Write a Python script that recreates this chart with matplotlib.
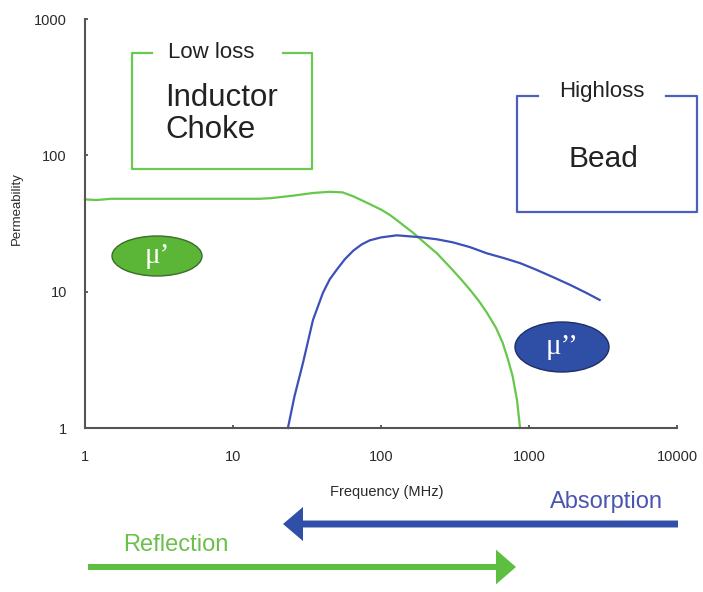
import matplotlib
matplotlib.use("Agg")
import matplotlib.pyplot as plt
from matplotlib.patches import Ellipse, FancyArrowPatch
from matplotlib.lines import Line2D

plt.rcParams['font.family'] = ['Liberation Sans', 'DejaVu Sans']

# Real part of permeability (mu')
freq_real = [1, 1.2, 1.5, 2, 3, 5, 10, 15, 18, 25, 35, 45, 55, 65, 80, 100,
             115, 130, 165, 200, 240, 305, 350, 400, 460, 520, 600, 665, 720, 775, 830, 870]
mu_real = [47.5, 47, 48, 48, 48, 48, 48, 48, 48.5, 50.5, 53, 54, 53.5, 50, 45, 40,
           36.5, 33, 27, 22.5, 19, 14.4, 12.2, 10.3, 8.5, 7.0, 5.4, 4.2, 3.2, 2.4, 1.6, 1.0]

# Imaginary part of permeability (mu'')
freq_imag = [23.5, 26, 29.7, 34.7, 40.5, 45, 50, 57, 65, 74, 84, 100, 128, 183,
             240, 306, 400, 520, 680, 870, 1100, 1450, 1900, 2460, 3000]
mu_imag = [1.0, 1.7, 3.0, 6.2, 9.8, 12.3, 14.4, 17.3, 20, 22.2, 23.8, 25.0, 25.9, 25.1,
           24.2, 23, 21.2, 19.1, 17.6, 16.2, 14.6, 12.8, 11.2, 9.75, 8.7]

x_ticks = [1, 10, 100, 1000, 10000]
x_tick_labels = ["1", "10", "100", "1000", "10000"]
y_ticks = [1, 10, 100, 1000]
y_tick_labels = ["1", "10", "100", "1000"]

W, H = 703, 592
fig = plt.figure(figsize=(W / 100, H / 100), dpi=100)


def fx(px):
    return px / W


def fy(py):
    return 1 - py / H


ax = fig.add_axes([fx(85), fy(428), fx(677) - fx(85), fy(19) - fy(428)])
ax.set_xscale('log')
ax.set_yscale('log')
ax.set_xlim(1, 10000)
ax.set_ylim(1, 1000)

green_line = '#66c84a'
blue_line = '#3c50b8'
ax.plot(freq_real, mu_real, color=green_line, lw=1.6, clip_on=False)
ax.plot(freq_imag, mu_imag, color=blue_line, lw=1.6, clip_on=False)

for s in ['top', 'right']:
    ax.spines[s].set_visible(False)
for s in ['left', 'bottom']:
    ax.spines[s].set_color('#555555')
    ax.spines[s].set_linewidth(1.5)

ax.minorticks_off()
ax.set_xticks(x_ticks)
ax.set_xticklabels(x_tick_labels)
ax.set_yticks(y_ticks)
ax.set_yticklabels(y_tick_labels)
ax.tick_params(axis='both', direction='in', length=2, width=1.2, color='#444444',
               labelsize=10.5, labelcolor='#2a2a2a')
ax.tick_params(axis='x', pad=16)
ax.tick_params(axis='y', pad=13)

fig.text(fx(387), fy(492), "Frequency (MHz)", ha='center', va='center',
         fontsize=10.5, color='#2a2a2a')
fig.text(fx(17), fy(209), "Permeability", ha='center', va='center',
         rotation=90, fontsize=9.5, color='#2a2a2a')


def bracket_box(x0, y0, x1, y1, gap0, gap1, color):
    xs = [gap0, x0, x0, x1, x1, gap1]
    ys = [y0, y0, y1, y1, y0, y0]
    fig.add_artist(Line2D([fx(v) for v in xs], [fy(v) for v in ys],
                          color=color, lw=1.6, transform=fig.transFigure))


# Low loss box
bracket_box(132, 53, 312, 169, 152, 283, '#6ac94f')
fig.text(fx(211), fy(52), "Low loss", ha='center', va='center', fontsize=16, color='#222222')
fig.text(fx(165), fy(98), "Inductor", ha='left', va='center', fontsize=22.5, color='#222222')
fig.text(fx(165), fy(130), "Choke", ha='left', va='center', fontsize=22.5, color='#222222')

# High loss box
bracket_box(517, 96, 697, 212, 538, 666, '#4a5ec4')
fig.text(fx(602), fy(92), "Highloss", ha='center', va='center', fontsize=16, color='#222222')
fig.text(fx(603), fy(159), "Bead", ha='center', va='center', fontsize=21.5, color='#222222')

# mu' and mu'' badges
fig.add_artist(Ellipse((fx(157), fy(256)), 90 / W, 40 / H, transform=fig.transFigure,
                       facecolor='#5bb536', edgecolor='#3d6b2a', lw=1))
fig.text(fx(157), fy(256), "\u03bc\u2019", ha='center', va='center', fontsize=21,
         color='white', family=['Liberation Serif', 'DejaVu Serif'])
fig.add_artist(Ellipse((fx(562), fy(347)), 94 / W, 50 / H, transform=fig.transFigure,
                       facecolor='#2f4ea5', edgecolor='#1f2f66', lw=1))
fig.text(fx(562), fy(347), "\u03bc\u2019\u2019", ha='center', va='center', fontsize=21,
         color='white', family=['Liberation Serif', 'DejaVu Serif'])

# Direction arrows
blue_arrow = FancyArrowPatch((fx(678), fy(524)), (fx(283), fy(524)),
                             transform=fig.transFigure,
                             arrowstyle='simple,head_length=14.4,head_width=24.5,tail_width=5',
                             mutation_scale=1, shrinkA=0, shrinkB=0,
                             color='#2f4fa8', lw=0)
fig.add_artist(blue_arrow)
green_arrow = FancyArrowPatch((fx(88), fy(567)), (fx(516), fy(567)),
                              transform=fig.transFigure,
                              arrowstyle='simple,head_length=14.4,head_width=25,tail_width=4.3',
                              mutation_scale=1, shrinkA=0, shrinkB=0,
                              color='#5dbf3f', lw=0)
fig.add_artist(green_arrow)

fig.text(fx(606), fy(502), "Absorption", ha='center', va='center', fontsize=17, color='#4a55b0')
fig.text(fx(176), fy(545), "Reflection", ha='center', va='center', fontsize=17, color='#6cc04a')

fig.savefig("out.png", dpi=100)
